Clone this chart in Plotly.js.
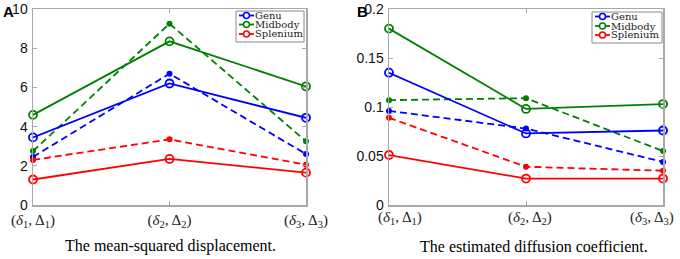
<!DOCTYPE html>
<html>
<head>
<meta charset="utf-8">
<script src="https://cdn.plot.ly/plotly-3.0.1.min.js"></script>
<style>html,body{margin:0;padding:0;background:#fff}#plot{width:680px;height:259px}</style>
</head>
<body>
<div id="plot"></div>
<script>
// ---- data ----
const xPos = [1, 2, 3];
const xTickLabels = [
  '(<i>δ</i><sub>1</sub>, Δ<sub>1</sub>)',
  '(<i>δ</i><sub>2</sub>, Δ<sub>2</sub>)',
  '(<i>δ</i><sub>3</sub>, Δ<sub>3</sub>)'
];
const seriesNames = ['Genu', 'Midbody', 'Splenium'];
const seriesColors = ['#0000ff', '#008000', '#ff0000'];

// Panel A: mean-squared displacement
const genuA = [3.45, 6.2, 4.45];
const midbodyA = [4.6, 8.35, 6.05];
const spleniumA = [1.3, 2.35, 1.65];
const genuA_dash = [2.45, 6.7, 2.6];
const midbodyA_dash = [2.75, 9.25, 3.25];
const spleniumA_dash = [2.3, 3.35, 2.05];
const yTicksA = [0, 2, 4, 6, 8, 10];

// Panel B: estimated diffusion coefficient
const genuB = [0.135, 0.073, 0.076];
const midbodyB = [0.18, 0.098, 0.103];
const spleniumB = [0.051, 0.027, 0.027];
const genuB_dash = [0.096, 0.078, 0.044];
const midbodyB_dash = [0.107, 0.109, 0.055];
const spleniumB_dash = [0.089, 0.039, 0.035];
const yTicksB = [0, 0.05, 0.1, 0.15, 0.2];
const yTickTextB = ['0', '0.05', '0.1', '0.15', '0.2'];

const titleA = 'The mean-squared displacement.';
const titleB = 'The estimated diffusion coefficient.';

// ---- traces ----
function solid(y, i, xa, ya) {
  return {x: xPos, y: y, xaxis: xa, yaxis: ya, name: seriesNames[i], showlegend: false,
    mode: 'lines+markers', cliponaxis: false,
    line: {color: seriesColors[i], width: 1.8},
    marker: {symbol: 'circle-open', size: 8, color: seriesColors[i], line: {width: 1.8}}};
}
function dashed(y, i, xa, ya) {
  return {x: xPos, y: y, xaxis: xa, yaxis: ya, showlegend: false,
    mode: 'lines+markers', cliponaxis: false,
    line: {color: seriesColors[i], width: 1.8, dash: '7px,4px'},
    marker: {symbol: 'circle', size: 6, color: seriesColors[i]}};
}
const data = [
  dashed(genuA_dash, 0, 'x', 'y'), dashed(midbodyA_dash, 1, 'x', 'y'), dashed(spleniumA_dash, 2, 'x', 'y'),
  solid(genuA, 0, 'x', 'y'), solid(midbodyA, 1, 'x', 'y'), solid(spleniumA, 2, 'x', 'y'),
  dashed(genuB_dash, 0, 'x2', 'y2'), dashed(midbodyB_dash, 1, 'x2', 'y2'), dashed(spleniumB_dash, 2, 'x2', 'y2'),
  solid(genuB, 0, 'x2', 'y2'), solid(midbodyB, 1, 'x2', 'y2'), solid(spleniumB, 2, 'x2', 'y2')
];

const W = 680, H = 259;
const px = v => v / W, py = v => (H - v) / H;
const SERIF = 'Liberation Serif';
const SANS = 'Liberation Sans';
const axisCommon = {
  showline: true, mirror: 'ticks', linecolor: '#a8a8a8', linewidth: 1.5,
  ticks: 'inside', ticklen: 4, tickcolor: '#a8a8a8', tickwidth: 1,
  showgrid: false, zeroline: false, fixedrange: true
};
const xFont = {family: SERIF, size: 15, color: '#222'};
const yFont = {family: SANS, size: 14, color: '#111'};

// legend (drawn as a small key box like the original figure)
const shapes = [], annotations = [];
function addKey(box, lineX, textX, rowsY) {
  shapes.push({type: 'rect', xref: 'paper', yref: 'paper', x0: px(box[0]), x1: px(box[1]), y0: py(box[3]), y1: py(box[2]),
    line: {color: '#8a8a8a', width: 1}, fillcolor: '#fff', layer: 'above'});
  seriesNames.forEach((n, i) => {
    const y = rowsY[i];
    shapes.push({type: 'line', xref: 'paper', yref: 'paper', x0: px(lineX[0]), x1: px(lineX[1]), y0: py(y), y1: py(y),
      line: {color: seriesColors[i], width: 1.8}, layer: 'above'});
    const cx = (lineX[0] + lineX[1]) / 2;
    shapes.push({type: 'circle', xref: 'paper', yref: 'paper', x0: px(cx - 3), x1: px(cx + 3), y0: py(y + 3), y1: py(y - 3),
      line: {color: seriesColors[i], width: 1.6}, fillcolor: '#fff', layer: 'above'});
    annotations.push({text: n, xref: 'paper', yref: 'paper', x: px(textX), y: py(y), xanchor: 'left', yanchor: 'middle',
      showarrow: false, borderpad: 0, font: {family: 'DejaVu Serif', size: 10, color: '#222'}});
  });
}
addKey([236, 304, 11, 42], [239, 254], 254, [15.5, 24.5, 34]);
addKey([592, 662, 12, 43], [595, 610], 610, [16.5, 26, 35]);

// panel B tick labels (placed as in the original, nudged to stay inside the figure)
const bTickShift = [11, 4, -11];
xTickLabels.forEach((t, i) => {
  annotations.push({text: t, x: xPos[i], xref: 'x2', y: py(218), yref: 'paper', xshift: bTickShift[i],
    xanchor: 'center', yanchor: 'middle', showarrow: false, font: xFont});
});

annotations.push(
  {text: '<b>A</b>', x: px(1), y: py(1), xref: 'paper', yref: 'paper', xanchor: 'left', yanchor: 'top',
    showarrow: false, font: {family: SANS, size: 15, color: '#000'}},
  {text: '<b>B</b>', x: px(355), y: py(1), xref: 'paper', yref: 'paper', xanchor: 'left', yanchor: 'top',
    showarrow: false, font: {family: SANS, size: 15, color: '#000'}},
  {text: titleA, x: px(170), y: py(246), xref: 'paper', yref: 'paper', xanchor: 'center', yanchor: 'middle',
    showarrow: false, font: {family: SERIF, size: 16, color: '#000'}},
  {text: titleB, x: px(534), y: py(246), xref: 'paper', yref: 'paper', xanchor: 'center', yanchor: 'middle',
    showarrow: false, font: {family: SERIF, size: 16, color: '#000'}}
);

const layout = {
  width: W, height: H, margin: {l: 0, r: 0, t: 0, b: 0},
  paper_bgcolor: '#fff', plot_bgcolor: '#fff', showlegend: false,
  xaxis: Object.assign({}, axisCommon, {domain: [px(33), px(306)], range: [1, 3], anchor: 'y',
    tickvals: xPos, ticktext: xTickLabels, tickfont: xFont, ticklabeloverflow: 'allow'}),
  yaxis: Object.assign({}, axisCommon, {domain: [py(205), py(9)], range: [0, 10], anchor: 'x',
    tickvals: yTicksA, ticktext: yTicksA.map(String), tickfont: yFont, ticklabelstandoff: 1}),
  xaxis2: Object.assign({}, axisCommon, {domain: [px(389), px(663)], range: [1, 3], anchor: 'y2',
    tickvals: xPos, showticklabels: false}),
  yaxis2: Object.assign({}, axisCommon, {domain: [py(205), py(9)], range: [0, 0.2], anchor: 'x2',
    tickvals: yTicksB, ticktext: yTickTextB, tickfont: yFont, ticklabelstandoff: 1}),
  shapes: shapes,
  annotations: annotations
};

Plotly.newPlot('plot', data, layout, {displayModeBar: false, staticPlot: true});
</script>
</body>
</html>
